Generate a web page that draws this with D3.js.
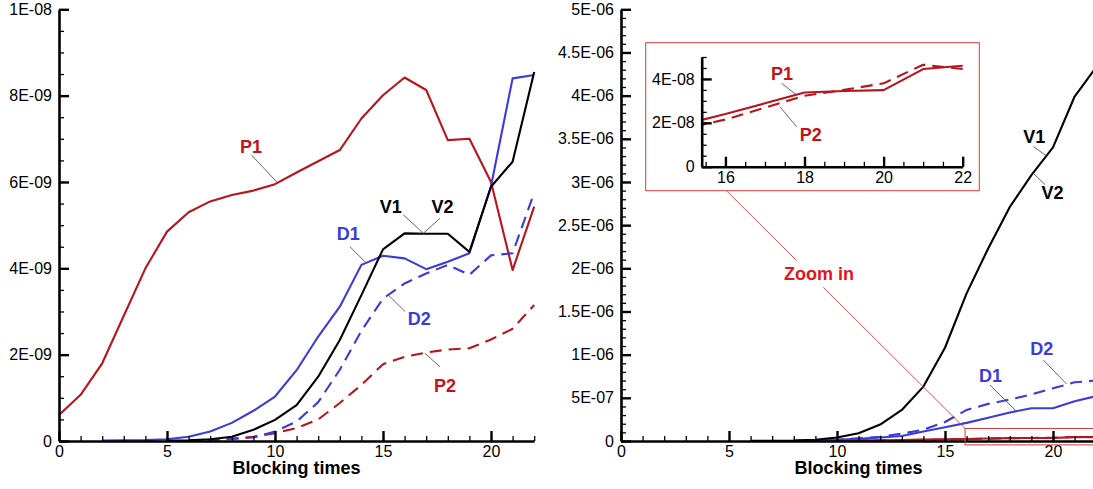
<!DOCTYPE html>
<html><head><meta charset="utf-8">
<script src="https://cdn.jsdelivr.net/npm/d3@7"></script>
<style>
html,body{margin:0;padding:0;background:#fff;overflow:hidden;}
text{font-family:"Liberation Sans",Arial,sans-serif;}
</style></head>
<body><svg id="c" width="1093" height="489"></svg>
<script>
// ---------- DATA ----------
const blockingTimes = [0,1,2,3,4,5,6,7,8,9,10,11,12,13,14,15,16,17,18,19,20,21,22];
// left panel, units of 1E-09
const leftP1 = [0.60,1.07,1.80,2.90,4.00,4.85,5.30,5.55,5.70,5.80,5.95,6.22,6.48,6.74,7.47,8.01,8.42,8.13,6.97,7.00,6.00,3.96,5.43];
const leftP2 = [null,null,null,null,null,null,0.01,0.03,0.05,0.10,0.18,0.30,0.50,0.88,1.30,1.78,1.95,2.05,2.12,2.15,2.35,2.60,3.15];
const leftV  = [null,null,null,null,null,0.005,0.015,0.04,0.10,0.26,0.49,0.83,1.49,2.34,3.38,4.44,4.81,4.80,4.80,4.38,5.89,6.47,8.55];
const leftD1 = [null,null,0.01,0.015,0.02,0.04,0.10,0.22,0.42,0.70,1.03,1.64,2.42,3.11,4.08,4.29,4.23,3.98,4.15,4.35,5.90,8.40,8.48];
const leftD2 = [null,null,null,null,null,null,0.01,0.03,0.05,0.08,0.22,0.45,0.90,1.65,2.55,3.30,3.65,3.88,4.08,3.85,4.30,4.35,5.75];
// right panel, units of 1E-06
const rightV  = [null,null,null,null,null,null,0.001,0.003,0.006,0.015,0.04,0.09,0.19,0.36,0.63,1.08,1.71,2.23,2.71,3.08,3.40,3.99,4.33];
const rightD1 = [null,null,null,null,null,null,null,null,0.003,0.008,0.015,0.025,0.04,0.058,0.11,0.16,0.21,0.27,0.33,0.38,0.38,0.46,0.52];
const rightD2 = [null,null,null,null,null,null,null,null,0.003,0.008,0.015,0.03,0.05,0.085,0.13,0.22,0.36,0.43,0.48,0.54,0.61,0.68,0.70];
// right panel P series, units of 1E-08
const rightP1 = [null,null,null,null,null,null,null,null,null,null,0.60,0.75,0.90,1.10,1.60,1.95,2.40,2.89,3.38,3.45,3.49,4.45,4.60];
const rightP2 = [null,null,null,null,null,null,null,null,null,null,0.50,0.65,0.80,1.00,1.45,1.75,2.15,2.69,3.23,3.50,3.80,4.65,4.45];
// tick labels
const leftYTicks  = [0,2,4,6,8,10];
const leftYLabels = ["0","2E-09","4E-09","6E-09","8E-09","1E-08"];
const rightYTicks  = [0,0.5,1,1.5,2,2.5,3,3.5,4,4.5,5];
const rightYLabels = ["0","5E-07","1E-06","1.5E-06","2E-06","2.5E-06","3E-06","3.5E-06","4E-06","4.5E-06","5E-06"];
const xTicks = [0,5,10,15,20];
const insetXTicks = [16,18,20,22];
const insetYTicks = [0,2,4];
const insetYLabels = ["0","2E-08","4E-08"];
const xTitle = "Blocking times";

// ---------- STYLE ----------
const RED = "#b8141c", RED_LBL = "#c4121c", BLUE = "#3b3bd9", BLACK = "#000";
const ZOOM_RED = "#e3141b", BOX_RED = "#d93a36";
const DASH = "12,7";

const svg = d3.select("#c");

function series(arr){ return blockingTimes.map((x,i)=>({x, y:arr[i]})); }

function drawAxes(g, x, y, o){
  g.append("g").attr("transform",`translate(${x.range()[0]},0)`)
    .call(d3.axisLeft(y).tickValues(o.yMinor).tickSize(-5).tickFormat(""))
    .call(s=>{s.select(".domain").remove(); s.selectAll("line").attr("stroke-width",1.3);});
  g.append("g").attr("transform",`translate(0,${y.range()[0]})`)
    .call(d3.axisBottom(x).tickValues(o.xMinor).tickSize(-5).tickFormat(""))
    .call(s=>{s.select(".domain").remove(); s.selectAll("line").attr("stroke-width",1.3);});
  g.append("g").attr("transform",`translate(${x.range()[0]},0)`)
    .call(d3.axisLeft(y).tickValues(o.yTicks).tickSize(-10).tickSizeOuter(0).tickPadding(7)
      .tickFormat((d,i)=>o.yLabels[i]))
    .call(s=>{s.select(".domain").attr("stroke-width",2.6);
      s.selectAll("line").attr("stroke-width",2.4);
      s.selectAll("text").attr("font-size",16).attr("fill","#000");});
  g.append("g").attr("transform",`translate(0,${y.range()[0]})`)
    .call(d3.axisBottom(x).tickValues(o.xTicks).tickSize(-10).tickSizeOuter(0).tickPadding(5)
      .tickFormat(d3.format("d")))
    .call(s=>{s.select(".domain").attr("stroke-width",2.6);
      s.selectAll("line").attr("stroke-width",2.4);
      s.selectAll("text").attr("font-size",16).attr("fill","#000");});
}

function drawLine(g, x, y, data, color, dashed, factor){
  const f = factor||1;
  g.append("path").datum(series(data))
    .attr("fill","none").attr("stroke",color).attr("stroke-width",2.1)
    .attr("stroke-dasharray",dashed?DASH:null).attr("stroke-linejoin","round")
    .attr("d", d3.line().defined(d=>d.y!=null).x(d=>x(d.x)).y(d=>y(d.y*f)));
}

function label(g, x, y, a, color){
  g.append("line").attr("x1",x(a.lx)).attr("y1",y(a.ly)).attr("x2",x(a.ex)).attr("y2",y(a.ey))
    .attr("stroke","#555").attr("stroke-width",0.9);
  g.append("text").attr("x",x(a.tx)).attr("y",y(a.ty)).attr("text-anchor","middle")
    .attr("font-size",18).attr("font-weight","bold").attr("fill",color).text(a.t);
}

// ---------- LEFT PANEL ----------
const xL = d3.scaleLinear().domain([0,22]).range([59,534.2]);
const yL = d3.scaleLinear().domain([0,10]).range([441,9.3]);
const gL = svg.append("g");
drawLine(gL,xL,yL,leftP1,RED,false);
drawLine(gL,xL,yL,leftP2,RED,true);
drawLine(gL,xL,yL,leftD2,BLUE,true);
drawLine(gL,xL,yL,leftD1,BLUE,false);
drawLine(gL,xL,yL,leftV,BLACK,false);
drawAxes(gL,xL,yL,{yTicks:leftYTicks,yLabels:leftYLabels,yMinor:d3.range(0,10.01,0.5),
  xTicks:xTicks,xMinor:d3.range(0,22.01,1)});
gL.append("text").attr("x",xL(11)).attr("y",474).attr("text-anchor","middle")
  .attr("font-size",18).attr("font-weight","bold").text(xTitle);
const leftLabels = [
  {t:"P1",c:RED_LBL,tx:8.89,ty:6.66,lx:8.92,ly:6.62,ex:10.08,ey:6.0},
  {t:"V1",c:BLACK,tx:15.36,ty:5.27,lx:15.94,ly:5.24,ex:16.87,ey:4.81},
  {t:"V2",c:BLACK,tx:17.75,ty:5.27,lx:17.64,ly:5.16,ex:16.87,ey:4.81},
  {t:"D1",c:BLUE,tx:13.39,ty:4.66,lx:13.47,ly:4.5,ex:14.17,ey:4.15},
  {t:"D2",c:BLUE,tx:16.68,ty:2.69,lx:16.02,ly:3.0,ex:15.25,ey:3.38},
  {t:"P2",c:RED_LBL,tx:17.87,ty:1.14,lx:17.64,ly:1.72,ex:16.94,ey:2.03}
];
leftLabels.forEach(a=>label(gL,xL,yL,a,a.c));

// ---------- RIGHT PANEL ----------
const xR = d3.scaleLinear().domain([0,22]).range([621,1096.2]);
const yR = d3.scaleLinear().domain([0,5]).range([441,9.3]);
const gR = svg.append("g");
drawLine(gR,xR,yR,rightP1,RED,false,0.01);
drawLine(gR,xR,yR,rightP2,RED,true,0.01);
drawLine(gR,xR,yR,rightD2,BLUE,true);
drawLine(gR,xR,yR,rightD1,BLUE,false);
drawLine(gR,xR,yR,rightV,BLACK,false);
drawAxes(gR,xR,yR,{yTicks:rightYTicks,yLabels:rightYLabels,yMinor:d3.range(0,5.001,0.1),
  xTicks:xTicks,xMinor:d3.range(0,22.01,1)});
gR.append("text").attr("x",xR(11)).attr("y",474).attr("text-anchor","middle")
  .attr("font-size",18).attr("font-weight","bold").text(xTitle);
const rightLabels = [
  {t:"V1",c:BLACK,tx:19.13,ty:3.45,lx:19.09,ly:3.41,ex:19.71,ey:3.30},
  {t:"V2",c:BLACK,tx:19.98,ty:2.80,lx:19.09,ly:3.10,ex:19.63,ey:2.97},
  {t:"D1",c:BLUE,tx:17.11,ty:0.687,lx:17.08,ly:0.649,ex:18.32,ey:0.34},
  {t:"D2",c:BLUE,tx:19.48,ty:0.996,lx:19.55,ly:0.938,ex:20.63,ey:0.66}
];
rightLabels.forEach(a=>label(gR,xR,yR,a,a.c));

// zoom rectangle in main right panel
const zoomBox = {x0:15.93, x1:23, y0:-0.045, y1:0.145};
gR.append("rect").attr("x",xR(zoomBox.x0)).attr("y",yR(zoomBox.y1))
  .attr("width",xR(zoomBox.x1)-xR(zoomBox.x0)).attr("height",yR(zoomBox.y0)-yR(zoomBox.y1))
  .attr("fill","none").attr("stroke",BOX_RED).attr("stroke-width",1);

// ---------- INSET ----------
const box = {x:645.7, y:42.7, w:333.6, h:148};
const gI = svg.append("g");
gI.append("rect").attr("x",box.x).attr("y",box.y).attr("width",box.w).attr("height",box.h)
  .attr("fill","#fff").attr("stroke",BOX_RED).attr("stroke-width",1);
const xI = d3.scaleLinear().domain([15.4,22]).range([701.7,962.7]);
const yI = d3.scaleLinear().domain([0,5]).range([166.7,57]);
gI.append("clipPath").attr("id","ic").append("rect")
  .attr("x",701.7).attr("y",50).attr("width",262).attr("height",120);
const gIL = gI.append("g").attr("clip-path","url(#ic)");
drawLine(gIL,xI,yI,rightP1,RED,false);
drawLine(gIL,xI,yI,rightP2,RED,true);
drawAxes(gI,xI,yI,{yTicks:insetYTicks,yLabels:insetYLabels,yMinor:d3.range(0,5.001,0.5),
  xTicks:insetXTicks,xMinor:d3.range(15.5,22.01,0.5)});
const insetLabels = [
  {t:"P1",c:RED_LBL,tx:17.43,ty:3.95,lx:17.42,ly:3.80,ex:17.80,ey:3.27},
  {t:"P2",c:RED_LBL,tx:18.16,ty:1.19,lx:17.80,ly:1.82,ex:17.38,ey:2.73}
];
insetLabels.forEach(a=>label(gI,xI,yI,a,a.c));

// zoom-in connector
const A = [xI(16)+1, box.y+box.h], B = [xR(zoomBox.x0), yR(zoomBox.y1)];
const P = t=>[A[0]+(B[0]-A[0])*t, A[1]+(B[1]-A[1])*t];
[[0,0.294],[0.406,1]].forEach(([t0,t1])=>{
  const p0=P(t0), p1=P(t1);
  svg.append("line").attr("x1",p0[0]).attr("y1",p0[1]).attr("x2",p1[0]).attr("y2",p1[1])
    .attr("stroke",BOX_RED).attr("stroke-width",0.9);
});
svg.append("text").attr("x",819).attr("y",280).attr("text-anchor","middle")
  .attr("font-size",18).attr("font-weight","bold").attr("fill",ZOOM_RED).text("Zoom in");
</script></body></html>
